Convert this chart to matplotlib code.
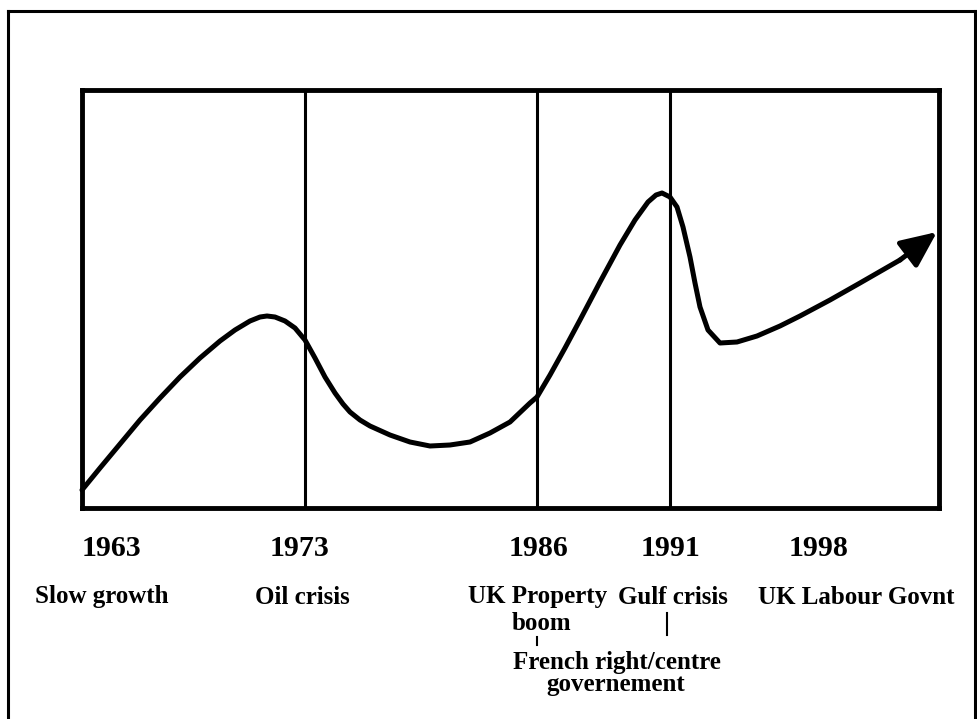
import matplotlib
matplotlib.use("Agg")
import matplotlib.pyplot as plt
from matplotlib.lines import Line2D

# ---- data (schematic curve, arbitrary units: x 0-857, y 0-418) ----
curve_x = [0, 18, 38, 58, 78, 98, 118, 138, 153, 168, 178, 185, 193, 203, 213, 223,
           233, 243, 253, 261, 268, 278, 288, 308, 328, 348, 368, 388, 408, 428, 448, 455,
           468, 483, 498, 518, 538, 553, 566, 574, 580, 588, 595, 601, 608, 613, 618,
           626, 638, 655, 675, 698, 718, 748, 778, 818, 855]
curve_y = [18, 40, 64, 88, 110, 131, 150, 167, 178, 187, 191, 192, 191, 187, 180, 168,
           150, 131, 115, 104, 96, 88, 82, 73, 66, 62, 63, 66, 75, 86, 105, 111,
           133, 160, 188, 226, 263, 288, 306, 313, 315, 311, 301, 281, 251, 225, 201,
           178, 165, 166, 172, 182, 192, 208, 225, 248, 276]

event_lines = [223, 455, 588]
years = ["1963", "1973", "1986", "1991", "1998"]
year_pos = [29, 218, 457, 589, 737]
events = ["Slow growth", "Oil crisis", "UK Property", "Gulf crisis", "UK Labour Govnt"]
event_pos = [20, 220, 456, 591, 774]

W, H = 978, 719
fig = plt.figure(figsize=(W / 100, H / 100), dpi=100)
fig.patch.set_facecolor("white")

# plot box in pixels: x 82..939, y 90..508
L, R, T, B = 82, 939, 90, 508
ax = fig.add_axes([L / W, 1 - B / H, (R - L) / W, (B - T) / H])
ax.set_xlim(0, R - L)
ax.set_ylim(0, B - T)
ax.set_xticks([])
ax.set_yticks([])
for s in ax.spines.values():
    s.set_linewidth(3.5)
    s.set_color("black")

for xv in event_lines:
    ax.axvline(xv, color="black", lw=2.2)

ax.plot(curve_x[:-1], curve_y[:-1], color="black", lw=3.6, solid_capstyle="round",
        solid_joinstyle="round", clip_on=False)
ax.annotate("", xy=(curve_x[-1], curve_y[-1]), xytext=(curve_x[-2], curve_y[-2]),
            arrowprops=dict(arrowstyle="-|>,head_length=1.0,head_width=0.45",
                            mutation_scale=22, color="black", lw=3.6,
                            shrinkA=0, shrinkB=0),
            annotation_clip=False)

font = dict(family=["Liberation Serif", "DejaVu Serif"], weight="bold", color="black")
trans = ax.get_xaxis_transform()

def yfrac(py):
    return (B - py) / (B - T)

for lab, xp in zip(years, year_pos):
    ax.text(xp, yfrac(549), lab, transform=trans, ha="center", va="center",
            fontsize=21.5, **font)
for lab, xp in zip(events, event_pos):
    ax.text(xp, yfrac(597), lab, transform=trans, ha="center", va="center",
            fontsize=18, **font)
ax.text(459, yfrac(623), "boom", transform=trans, ha="center", va="center",
        fontsize=18, **font)
ax.text(535, yfrac(662), "French right/centre", transform=trans, ha="center",
        va="center", fontsize=18, **font)
ax.text(534, yfrac(685), "governement", transform=trans, ha="center",
        va="center", fontsize=18, **font)
# small connector ticks
ax.plot([455, 455], [yfrac(637), yfrac(645)], transform=trans, color="black",
        lw=1.5, clip_on=False)
ax.plot([585, 585], [yfrac(613), yfrac(635)], transform=trans, color="black",
        lw=1.5, clip_on=False)

# outer frame (left, top, right)
fx = lambda px: px / W
fy = lambda py: 1 - py / H
fig.add_artist(Line2D([fx(8), fx(8)], [fy(719), fy(11)], color="black", lw=2.2))
fig.add_artist(Line2D([fx(8), fx(976)], [fy(11), fy(11)], color="black", lw=2.2))
fig.add_artist(Line2D([fx(975), fx(975)], [fy(11), fy(719)], color="black", lw=2.2))

fig.savefig("out.png", dpi=100, facecolor="white")
